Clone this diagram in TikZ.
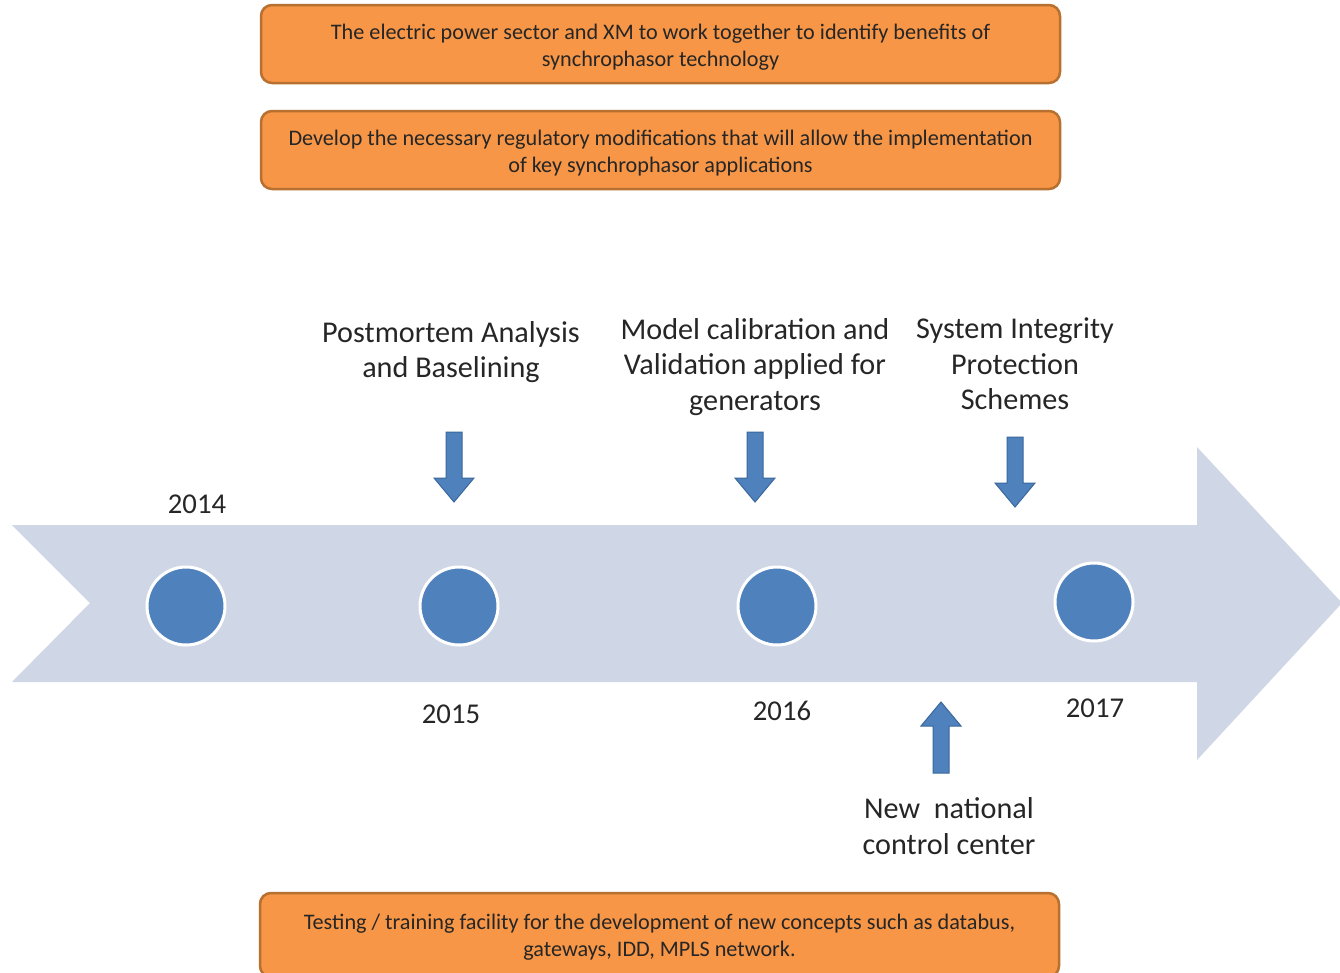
\documentclass[tikz,border=0pt]{standalone}
\usepackage{fontspec}
\setmainfont{Carlito}
\definecolor{orangefill}{HTML}{F79646}
\definecolor{orangeedge}{HTML}{B7702F}
\definecolor{bandfill}{HTML}{CFD6E5}
\definecolor{dotfill}{HTML}{4F81BD}
\definecolor{arrowedge}{HTML}{3A679C}
\definecolor{txt}{HTML}{262626}
\newcommand{\blockdown}[3]{% x, ytop, ytip
  \draw[blockarrow] (#1-8,#2) -- (#1+8,#2) -- (#1+8,#3-24) -- (#1+20,#3-24) -- (#1,#3) -- (#1-20,#3-24) -- (#1-8,#3-24) -- cycle;}
\newcommand{\blockup}[3]{% x, ybottom, ytip
  \draw[blockarrow] (#1-8,#2) -- (#1+8,#2) -- (#1+8,#3+24) -- (#1+20,#3+24) -- (#1,#3) -- (#1-20,#3+24) -- (#1-8,#3+24) -- cycle;}
\begin{document}
\begin{tikzpicture}[x=1pt,y=-1pt,
  obox/.style={draw=orangeedge, line width=2.5pt, fill=orangefill, rounded corners=11pt,
    minimum width=799pt, minimum height=78pt, inner sep=0pt},
  otext/.style={align=center, text=txt, font=\fontsize{22.2}{26.5}\selectfont, inner sep=0pt},
  dot/.style={circle, fill=dotfill, draw=white, line width=3pt, minimum size=78pt, inner sep=0pt},
  blockarrow/.style={fill=dotfill, draw=arrowedge, line width=1pt, line join=miter},
  lbl/.style={align=center, text=txt, font=\fontsize{30.2}{35.5}\selectfont, inner sep=0pt},
  yr/.style={text=txt, font=\fontsize{28.7}{33}\selectfont, inner sep=0pt}]
\useasboundingbox[fill=white] (0,0) rectangle (1340,972);
% big band arrow
\fill[bandfill] (12,525) -- (1197,525) -- (1197,447) -- (1342,603) -- (1197,760) -- (1197,682) -- (12,682) -- (90,603) -- cycle;
% boxes
\node[obox] (b1) at (660.5,44) {};
\node[otext] (t1) at (660.5,47) {The electric power sector and XM to work together to identify benefits of\\synchrophasor technology};
\node[obox] (b2) at (660.5,150) {};
\node[otext] (t2) at (660.5,153) {Develop the necessary regulatory modifications that will allow the implementation\\of key synchrophasor applications};
\node[obox, minimum height=84pt] (b3) at (659.5,935) {};
\node[otext] (t3) at (659.5,937) {Testing / training facility for the development of new concepts such as databus,\\gateways, IDD, MPLS network.};
% dots
\node[dot] (d1) at (186,606) {};
\node[dot] (d2) at (459,606) {};
\node[dot] (d3) at (777,606) {};
\node[dot] (d4) at (1094,602) {};
% years
\node[yr] (y1) at (197,504) {2014};
\node[yr] (y2) at (451,714) {2015};
\node[yr] (y3) at (782,711) {2016};
\node[yr] (y4) at (1095,708) {2017};
% labels
\node[lbl] (l1) at (451,352) {Postmortem Analysis\\and Baselining};
\node[lbl] (l2) at (755,367) {Model calibration and\\Validation applied for\\generators};
\node[lbl] (l3) at (1015,364) {System Integrity\\Protection\\Schemes};
\node[lbl] (l4) at (949,826) {New\ \ national\\control center};
% block arrows
\blockdown{454}{432}{502}
\blockdown{755}{432}{502}
\blockdown{1015}{437}{507}
\blockup{941}{773}{702}
\end{tikzpicture}
\end{document}
